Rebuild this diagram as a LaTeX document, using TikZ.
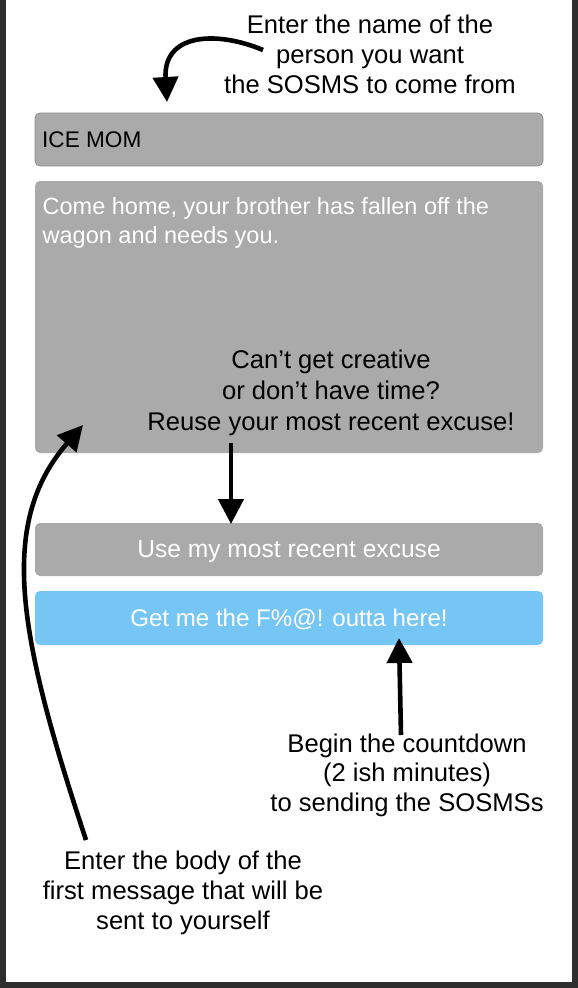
\documentclass[tikz,border=0pt]{standalone}
\usepackage{fontspec}
\setmainfont{Liberation Sans}
\usetikzlibrary{arrows.meta}
\definecolor{frameC}{HTML}{2E2E2E}
\definecolor{boxC}{HTML}{AAAAAA}
\definecolor{boxLine}{HTML}{8E8E8E}
\definecolor{blueC}{HTML}{75C6F4}
\begin{document}
\begin{tikzpicture}[x=1pt,y=-1pt,
  uibox/.style={rectangle, rounded corners=5pt, fill=boxC, inner sep=0pt, minimum width=508pt},
  uitext/.style={inner sep=0pt, text=white},
  note/.style={align=center, inner sep=0pt, anchor=north, font=\fontsize{25.6}{30}\selectfont},
  callout/.style={line width=4.6pt, -{Triangle[length=25pt,width=25pt]}}]
\useasboundingbox (0,0) rectangle (578,988);
\fill[frameC] (0,0) rectangle (578,988);
\fill[white] (6,0) rectangle (572,982);
% UI boxes
\node[uibox, draw=boxLine, line width=0.8pt, minimum height=53pt] (name) at (289,139.5) {};
\node[uibox, minimum height=272pt] (body) at (289,317) {};
\node[uibox, minimum height=53pt] (reuse) at (289,549.5) {};
\node[uibox, fill=blueC, minimum height=54pt] (go) at (289,618) {};
% UI texts
\node[anchor=base west, inner sep=0pt, font=\fontsize{22.6}{27}\selectfont] (nametext) at (42,147) {ICE MOM};
\node[anchor=north west, align=left, uitext, font=\fontsize{23.5}{28.5}\selectfont] (bodytext) at (42.5,197.5) {Come home, your brother has fallen off the\\wagon and needs you.};
\node[anchor=base, uitext, font=\fontsize{24.6}{28}\selectfont] (reusetext) at (289,557.5) {Use my most recent excuse};
\node[anchor=base, uitext, font=\fontsize{24.1}{28}\selectfont] (gotext) at (289,626) {Get me the F\%@! outta here!};
% annotations
\node[note] (n1) at (370,14.5) {Enter the name of the\\person you want\\the SOSMS to come from};
\node[note, font=\fontsize{25.6}{31}\selectfont] (n2) at (331,349.5) {Can’t get creative\\or don’t have time?\\Reuse your most recent excuse!};
\node[note, font=\fontsize{25.6}{29.5}\selectfont] (n3) at (407,733.5) {Begin the countdown\\(2 ish minutes)\\to sending the SOSMSs};
\node[note] (n4) at (183,850.5) {Enter the body of the\\first message that will be\\sent to yourself};
% arrow end points
\coordinate (a1s) at (263,50);  \coordinate (a1e) at (167,102);
\coordinate (a2s) at (231,443); \coordinate (a2e) at (231,524);
\coordinate (a3s) at (401,735); \coordinate (a3e) at (399,638);
\coordinate (a4s) at (86,840);  \coordinate (a4e) at (83,425);
% arrows
\draw[callout] (a1s) .. controls (215,30) and (163,34) .. (a1e);
\draw[callout] (a2s) -- (a2e);
\draw[callout] (a3s) -- (a3e);
\draw[callout] (a4s) .. controls (20,640) and (-4,525) .. (a4e);
\end{tikzpicture}
\end{document}
